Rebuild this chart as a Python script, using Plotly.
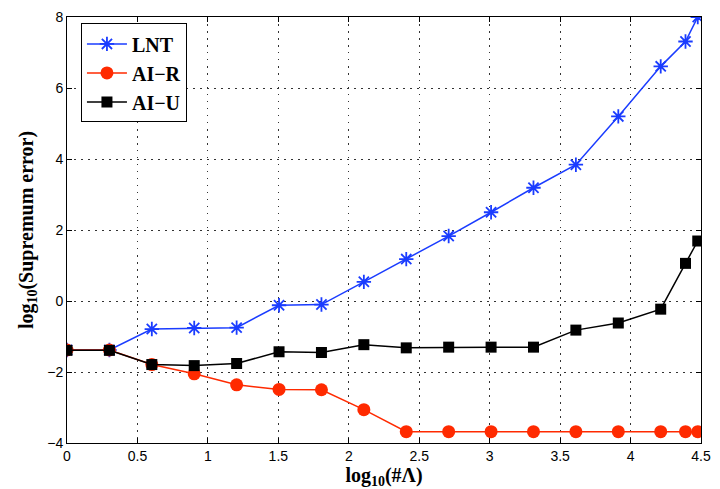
import plotly.graph_objects as go

x_vals = [0, 0.301, 0.602, 0.903, 1.204, 1.505, 1.806, 2.107, 2.408, 2.709, 3.010, 3.311, 3.612, 3.913, 4.214, 4.39, 4.477]
lnt = [-1.38, -1.38, -0.79, -0.76, -0.75, -0.12, -0.10, 0.54, 1.18, 1.83, 2.50, 3.19, 3.84, 5.20, 6.61, 7.31, 8.0]
ai_r = [-1.38, -1.38, -1.79, -2.05, -2.36, -2.49, -2.50, -3.06, -3.68, -3.68, -3.68, -3.68, -3.68, -3.68, -3.68, -3.68, -3.68]
ai_u = [-1.39, -1.39, -1.79, -1.82, -1.76, -1.43, -1.45, -1.23, -1.32, -1.30, -1.30, -1.30, -0.82, -0.62, -0.23, 1.06, 1.69]

x_ticks = [0, 0.5, 1, 1.5, 2, 2.5, 3, 3.5, 4, 4.5]
x_ticklabels = ["0", "0.5", "1", "1.5", "2", "2.5", "3", "3.5", "4", "4.5"]
y_ticks = [-4, -2, 0, 2, 4, 6, 8]
y_ticklabels = ["\u22124", "\u22122", "0", "2", "4", "6", "8"]
series_names = ["LNT", "AI\u2212R", "AI\u2212U"]

fig = go.Figure()
fig.add_trace(go.Scatter(x=x_vals, y=lnt, name="<b>" + series_names[0] + "</b>", mode="lines+markers",
                         line=dict(color="#1a3cff", width=1.5),
                         marker=dict(symbol="asterisk-open", size=12, color="#1a3cff",
                                     line=dict(color="#1a3cff", width=1.8))))
fig.add_trace(go.Scatter(x=x_vals, y=ai_r, name="<b>" + series_names[1] + "</b>", mode="lines+markers",
                         line=dict(color="#ff2a00", width=1.5),
                         marker=dict(symbol="circle", size=13, color="#ff2a00")))
fig.add_trace(go.Scatter(x=x_vals, y=ai_u, name="<b>" + series_names[2] + "</b>", mode="lines+markers",
                         line=dict(color="black", width=1.5),
                         marker=dict(symbol="square", size=11, color="black")))

tickfont = dict(family="Liberation Sans Narrow, Liberation Sans, Arial", size=14, color="black")
titlefont = dict(family="Liberation Serif, Times New Roman, serif", size=20, color="black")

fig.update_layout(
    width=720, height=489,
    margin=dict(l=67, r=9, t=11, b=46),
    paper_bgcolor="white", plot_bgcolor="white",
    showlegend=True,
    legend=dict(x=0.022, y=0.985, xanchor="left", yanchor="top",
                bordercolor="black", borderwidth=1, bgcolor="white",
                font=dict(family="Liberation Serif, Times New Roman, serif", size=20, color="black"),
                itemwidth=40, tracegroupgap=0),
)
fig.update_xaxes(range=[0, 4.5], tickvals=x_ticks, ticktext=x_ticklabels,
                 ticks="inside", ticklen=5, tickcolor="black", mirror="ticks",
                 showline=True, linecolor="black", linewidth=1,
                 showgrid=True, gridcolor="#333333", griddash="1.5px,5.5px", gridwidth=1,
                 zeroline=False, tickfont=tickfont,
                 title=dict(text="<b>log<sub>10</sub>(#\u039b)</b>", font=titlefont, standoff=0))
fig.update_yaxes(range=[-4, 8], tickvals=y_ticks, ticktext=y_ticklabels,
                 ticks="inside", ticklen=5, tickcolor="black", mirror="ticks",
                 showline=True, linecolor="black", linewidth=1,
                 showgrid=True, gridcolor="#333333", griddash="1.5px,5.5px", gridwidth=1,
                 zeroline=False, tickfont=tickfont,
                 title=dict(text="<b>log<sub>10</sub>(Supremum error)</b>", font=titlefont, standoff=8))

fig.write_html("out.html")
